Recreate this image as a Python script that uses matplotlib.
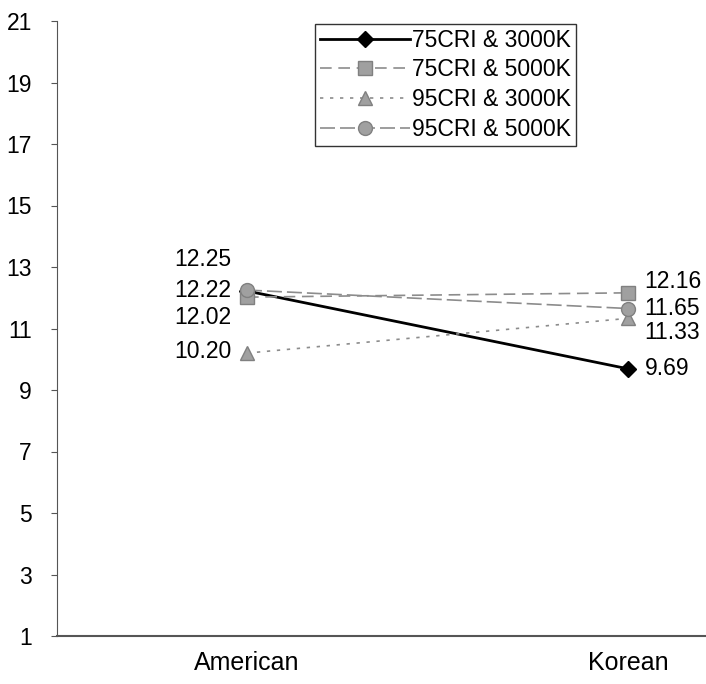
import matplotlib
matplotlib.use("Agg")
import matplotlib.pyplot as plt

categories = ["American", "Korean"]
series_names = ["75CRI & 3000K", "75CRI & 5000K", "95CRI & 3000K", "95CRI & 5000K"]
values = {
    "75CRI & 3000K": [12.22, 9.69],
    "75CRI & 5000K": [12.02, 12.16],
    "95CRI & 3000K": [10.20, 11.33],
    "95CRI & 5000K": [12.25, 11.65],
}
yticks = [1, 3, 5, 7, 9, 11, 13, 15, 17, 19, 21]

styles = {
    "75CRI & 3000K": dict(color="black", lw=2.0, ls="-", marker="D", ms=8, mfc="black", mec="black"),
    "75CRI & 5000K": dict(color="#8c8c8c", lw=1.2, ls=(0, (7, 4)), marker="s", ms=10, mfc="#a0a0a0", mec="#808080"),
    "95CRI & 3000K": dict(color="#8c8c8c", lw=1.2, ls=(0, (2, 4)), marker="^", ms=10, mfc="#a0a0a0", mec="#808080"),
    "95CRI & 5000K": dict(color="#8c8c8c", lw=1.2, ls=(0, (9, 3)), marker="o", ms=10, mfc="#a0a0a0", mec="#808080"),
}

# label offsets in points (x, y) for readability, as in the original
label_offsets = {
    "75CRI & 3000K": [(-11, 0), (12, 0)],
    "75CRI & 5000K": [(-11, -15), (12, 8)],
    "95CRI & 3000K": [(-11, 1), (12, -10)],
    "95CRI & 5000K": [(-11, 22), (12, 0)],
}

FS = 16.5
FAM = "Liberation Sans"

fig = plt.figure(figsize=(7.06, 6.84), dpi=100)
ax = fig.add_axes([57/706, 1 - 636/684, 1 - 57/706, (636 - 21)/684])

x = list(range(len(categories)))
for name in series_names:
    ax.plot(x, values[name], label=name, **styles[name], zorder=3)
    for i, v in enumerate(values[name]):
        dx, dy = label_offsets[name][i]
        ax.annotate(f"{v:.2f}", (x[i], v), xytext=(dx, dy), textcoords="offset points",
                    ha="right" if i == 0 else "left", va="center", fontsize=FS,
                    family=FAM)

ax.set_xlim(-0.4987, 1.205)
ax.set_ylim(1, 21)
ax.set_yticks(yticks)
ax.set_yticklabels([str(t) for t in yticks], fontsize=FS, family=FAM)
ax.set_xticks(x)
ax.set_xticklabels(categories, fontsize=18, family=FAM)
ax.tick_params(axis="x", length=0, pad=11)
ax.tick_params(axis="y", direction="out", length=4, pad=14, color="#555555")
for s in ["top", "right"]:
    ax.spines[s].set_visible(False)
ax.spines["left"].set_color("#555555")
ax.spines["bottom"].set_color("#555555")
ax.spines["bottom"].set_linewidth(1.5)

leg = ax.legend(loc="upper left", bbox_to_anchor=((315 - 57) / 649, 1 - (24 - 21) / 615),
                frameon=True, fancybox=False, edgecolor="black",
                prop={"family": FAM, "size": FS}, handlelength=3.95,
                borderpad=0.2, labelspacing=0.3, handletextpad=0.1, borderaxespad=0)
leg.get_frame().set_linewidth(1.0)

fig.savefig("out.png", dpi=100)
